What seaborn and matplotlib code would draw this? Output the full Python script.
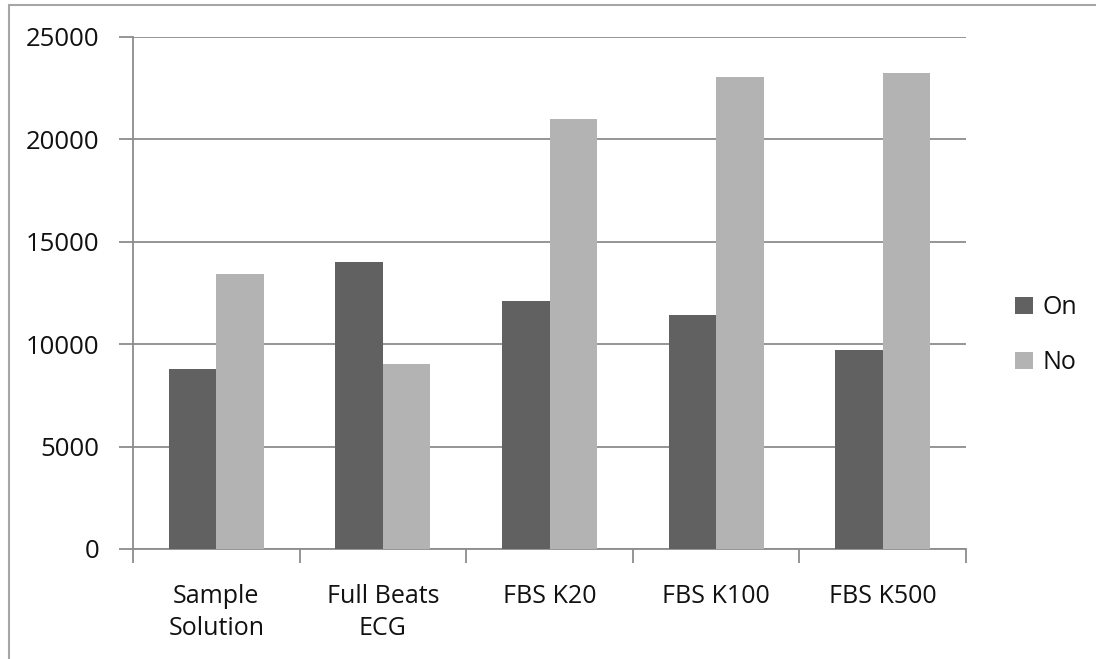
import pandas as pd
import matplotlib.pyplot as plt
import matplotlib.lines as mlines
import seaborn as sns

# Valores
categorias = ["Sample\nSolution", "Full Beats\nECG", "FBS K20", "FBS K100", "FBS K500"]
valores_on = [8800, 14000, 12100, 11450, 9700]
valores_no = [13450, 9050, 21000, 23050, 23250]
series = ["On", "No"]
cores = ["#616161", "#b3b3b3"]
yticks = [0, 5000, 10000, 15000, 20000, 25000]


def main():
    df = pd.DataFrame({
        "categoria": categorias * 2,
        "valor": valores_on + valores_no,
        "serie": [series[0]] * len(categorias) + [series[1]] * len(categorias),
    })

    sns.set_style("white")
    plt.rcParams["font.family"] = ["Open Sans", "DejaVu Sans"]

    fig = plt.figure(figsize=(10.96, 6.59), dpi=100)
    ax = fig.add_axes([133 / 1096, 1 - 549 / 659, 833 / 1096, 512 / 659])

    sns.barplot(data=df, x="categoria", y="valor", hue="serie",
                palette=cores, width=0.57, saturation=1,
                edgecolor="none", linewidth=0, ax=ax, zorder=3)

    cinza = "#8c8c8c"
    texto = "#111111"
    ax.set_ylim(0, 25000)
    ax.set_xlim(-0.5, len(categorias) - 0.5)
    ax.set_yticks(yticks)
    ax.set_yticklabels([str(v) for v in yticks], fontsize=18.5, color=texto)
    ax.yaxis.grid(True, color=cinza, linewidth=1.3, zorder=0)
    ax.set_axisbelow(True)

    # ticks do eixo x ficam entre as categorias
    ax.set_xticks([i - 0.5 for i in range(len(categorias) + 1)], minor=False)
    ax.set_xticklabels([])
    ax.set_xticks(range(len(categorias)), minor=True)
    ax.set_xticklabels(categorias, minor=True, fontsize=18, color=texto,
                       linespacing=1.4)
    ax.tick_params(axis="x", which="major", direction="out", length=10,
                   width=1.3, color=cinza, bottom=True)
    ax.tick_params(axis="x", which="minor", length=0, pad=25)
    ax.tick_params(axis="y", direction="out", length=10, width=1.3,
                   color=cinza, left=True, pad=14)

    for lado in ["top", "right"]:
        ax.spines[lado].set_visible(False)
    for lado in ["left", "bottom"]:
        ax.spines[lado].set_color(cinza)
        ax.spines[lado].set_linewidth(1.3)

    ax.set_xlabel("")
    ax.set_ylabel("")

    ax.legend(loc="center left", bbox_to_anchor=(1.047, 0.417),
              frameon=False, fontsize=18, handlelength=0.7,
              handleheight=0.7, handletextpad=0.4, labelspacing=1.2,
              borderaxespad=0, labelcolor=texto)

    # moldura do gráfico (estilo Excel)
    fig.add_artist(mlines.Line2D([9 / 1096, 9 / 1096], [0, 1 - 5 / 659],
                                 color="#a6a6a6", linewidth=1.5))
    fig.add_artist(mlines.Line2D([9 / 1096, 1], [1 - 5 / 659, 1 - 5 / 659],
                                 color="#a6a6a6", linewidth=1.5))

    fig.savefig("out.png", dpi=100, facecolor="white")


if __name__ == "__main__":
    main()
